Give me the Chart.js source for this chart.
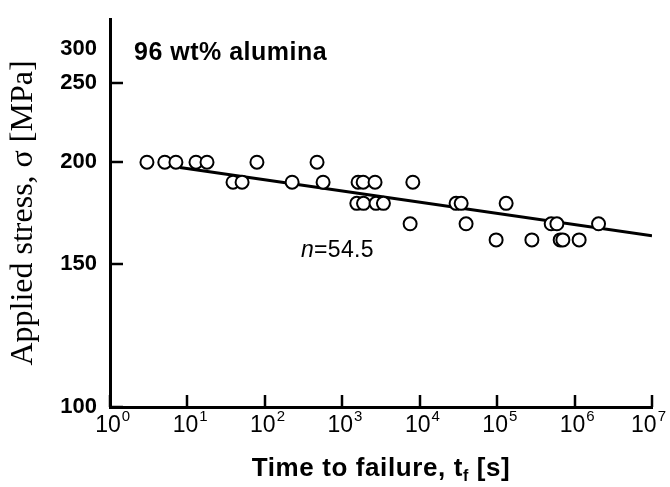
<!DOCTYPE html>
<html>
<head>
<meta charset="utf-8">
<script src="https://cdn.jsdelivr.net/npm/chart.js@4"></script>
<style>
html, body { margin: 0; padding: 0; background: #fff; }
</style>
</head>
<body>
<canvas id="chart" width="670" height="487"></canvas>
<script>
// failure times [s] and applied stress [MPa]
const timeToFailure = [
  3.0, 5.1, 7.1, 12.9, 17.9, 79, 472,
  38.8, 50.8, 225, 565, 1600, 1860, 2650, 8150,
  1540, 1880, 2730, 3400, 29500, 34300, 130700,
  7520, 39700, 499000, 591000, 2040000,
  97000, 281000, 652000, 706000, 1146000
];
const appliedStress = [
  200, 200, 200, 200, 200, 200, 200,
  189, 189, 189, 189, 189, 189, 189, 189,
  178, 178, 178, 178, 178, 178, 178,
  168, 168, 168, 168, 168,
  160.5, 160.5, 160.5, 160.5, 160.5
];
// fitted line, n = 54.5
const fitTimes = [8, 1e7];
const fitStress = [197, 162.4];

const xTickValues = [1, 10, 100, 1e3, 1e4, 1e5, 1e6, 1e7];
const xTickExponents = ['0', '1', '2', '3', '4', '5', '6', '7'];
const yTickValues = [100, 150, 200, 250, 276];
const yTickLabels = ['100', '150', '200', '250', '300'];
const yTickMarks = [100, 150, 200, 250];

const sans = '"Liberation Sans", Arial, Helvetica, sans-serif';

const points = timeToFailure.map((t, i) => ({ x: t, y: appliedStress[i] }));
const fitLine = fitTimes.map((t, i) => ({ x: t, y: fitStress[i] }));

const extras = {
  id: 'extras',
  afterDraw(chart) {
    const ctx = chart.ctx;
    const xs = chart.scales.x;
    const ys = chart.scales.y;
    const area = chart.chartArea;
    ctx.save();
    ctx.strokeStyle = '#000';
    ctx.lineWidth = 2.5;
    // inward tick marks
    yTickMarks.forEach(v => {
      const py = Math.round(ys.getPixelForValue(v));
      ctx.beginPath();
      ctx.moveTo(area.left, py);
      ctx.lineTo(area.left + 13, py);
      ctx.stroke();
    });
    xTickValues.forEach(v => {
      const px = Math.round(xs.getPixelForValue(v));
      ctx.beginPath();
      ctx.moveTo(px, area.bottom);
      ctx.lineTo(px, area.bottom - 12);
      ctx.stroke();
    });

    // x tick labels 10^n
    ctx.fillStyle = '#000';
    ctx.textAlign = 'left';
    ctx.textBaseline = 'alphabetic';
    xTickValues.forEach((v, i) => {
      const px = xs.getPixelForValue(v);
      ctx.font = '23px ' + sans;
      const w10 = ctx.measureText('10').width;
      ctx.font = '15px ' + sans;
      const we = ctx.measureText(xTickExponents[i]).width;
      let left = px - w10 / 2 - 2;
      if (left + w10 + we > chart.width - 5) left = chart.width - 5 - w10 - we;
      ctx.font = '23px ' + sans;
      ctx.fillText('10', left, 432);
      ctx.font = '15px ' + sans;
      ctx.fillText(xTickExponents[i], left + w10 + 1, 421);
    });

    // x axis title with subscript
    const cx = (area.left + area.right) / 2;
    ctx.letterSpacing = '0.6px';
    const bold = 'bold 26px ' + sans;
    const sub = 'bold 16px ' + sans;
    ctx.font = bold;
    const p1 = 'Time to failure, t';
    const p2 = ' [s]';
    const w1 = ctx.measureText(p1).width;
    const w3 = ctx.measureText(p2).width;
    ctx.font = sub;
    const w2 = ctx.measureText('f').width;
    const tx = cx - (w1 + w2 + w3) / 2;
    ctx.font = bold;
    ctx.fillText(p1, tx, 476);
    ctx.font = sub;
    ctx.fillText('f', tx + w1, 481);
    ctx.font = bold;
    ctx.fillText(p2, tx + w1 + w2, 476);

    // annotations
    ctx.letterSpacing = '0.5px';
    ctx.font = 'bold 25px ' + sans;
    ctx.fillText('96 wt% alumina', 134, 60);
    ctx.letterSpacing = '0.3px';
    ctx.font = 'italic 23px ' + sans;
    ctx.fillText('n', 301, 257);
    const wn = ctx.measureText('n').width;
    ctx.font = '23px ' + sans;
    ctx.fillText('=54.5', 301 + wn, 257);
    ctx.restore();
  }
};

new Chart(document.getElementById('chart'), {
  type: 'scatter',
  data: {
    datasets: [
      {
        label: 'fit',
        data: fitLine,
        showLine: true,
        borderColor: '#000',
        borderWidth: 3,
        pointRadius: 0,
        fill: false,
        order: 2
      },
      {
        label: 'data',
        data: points,
        pointRadius: 6.5,
        pointHoverRadius: 6.5,
        pointBorderWidth: 2,
        pointBackgroundColor: '#fff',
        pointBorderColor: '#000',
        order: 1
      }
    ]
  },
  options: {
    responsive: false,
    devicePixelRatio: 1,
    animation: false,
    layout: { padding: { left: 0, right: 18, top: 19, bottom: 0 } },
    plugins: {
      legend: { display: false },
      tooltip: { enabled: false }
    },
    scales: {
      x: {
        type: 'logarithmic',
        min: 1,
        max: 1e7,
        afterBuildTicks: scale => { scale.ticks = xTickValues.map(v => ({ value: v })); },
        afterFit: scale => {
          scale.height = 80;
          scale.paddingLeft = 0;
          scale.paddingRight = 0;
        },
        grid: { display: false, drawTicks: false },
        border: { display: true, color: '#000', width: 3 },
        ticks: { display: false }
      },
      y: {
        type: 'logarithmic',
        min: 100,
        max: 300,
        afterBuildTicks: scale => { scale.ticks = yTickValues.map(v => ({ value: v })); },
        afterFit: scale => {
          scale.width = 110;
          scale.paddingTop = 0;
          scale.paddingBottom = 0;
        },
        grid: { display: false, drawTicks: false },
        border: { display: true, color: '#000', width: 3 },
        ticks: {
          padding: 13,
          color: '#000',
          font: { family: sans, size: 22, weight: 'bold' },
          callback: (value, index) => yTickLabels[index]
        },
        title: {
          display: true,
          text: 'Applied stress, σ [MPa]',
          color: '#000',
          font: { family: '"Liberation Serif", "Times New Roman", serif', size: 32 },
          padding: { top: 4, bottom: 0 }
        }
      }
    }
  },
  plugins: [extras]
});
</script>
</body>
</html>
